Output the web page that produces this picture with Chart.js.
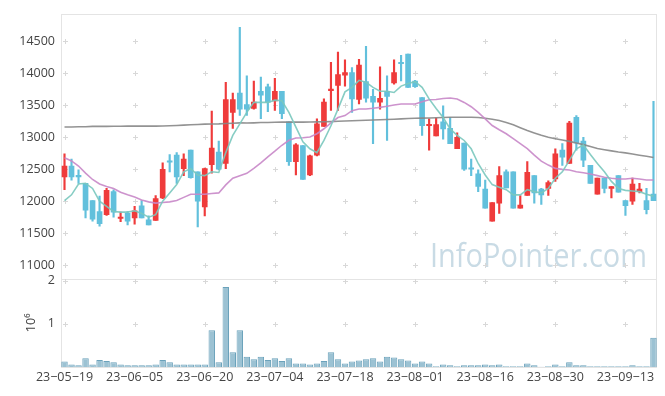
<!DOCTYPE html>
<html>
<head>
<meta charset="utf-8">
<script src="https://cdn.jsdelivr.net/npm/chart.js@4.4.0/dist/chart.umd.min.js"></script>
<style>
  body { margin: 0; background: #fff; }
  #wrap { width: 665px; height: 396px; }
</style>
</head>
<body>
<div id="wrap"><canvas id="chart" width="665" height="396"></canvas></div>
<script>
var dates = [
  '23-05-19','23-05-22','23-05-23','23-05-24','23-05-25','23-05-26','23-05-30','23-05-31',
  '23-06-01','23-06-02','23-06-05','23-06-07','23-06-08','23-06-09','23-06-12','23-06-13',
  '23-06-14','23-06-15','23-06-16','23-06-19','23-06-20','23-06-21','23-06-22','23-06-23',
  '23-06-26','23-06-27','23-06-28','23-06-29','23-06-30','23-07-03','23-07-04','23-07-05',
  '23-07-06','23-07-07','23-07-10','23-07-11','23-07-12','23-07-13','23-07-14','23-07-17',
  '23-07-18','23-07-19','23-07-20','23-07-21','23-07-24','23-07-25','23-07-26','23-07-27',
  '23-07-28','23-07-31','23-08-01','23-08-02','23-08-03','23-08-04','23-08-07','23-08-08',
  '23-08-09','23-08-10','23-08-11','23-08-14','23-08-16','23-08-17','23-08-18','23-08-21',
  '23-08-22','23-08-23','23-08-24','23-08-25','23-08-28','23-08-29','23-08-30','23-08-31',
  '23-09-01','23-09-04','23-09-05','23-09-06','23-09-07','23-09-08','23-09-11','23-09-12',
  '23-09-13','23-09-14','23-09-15','23-09-18','23-09-19'
];
var xTickLabels = ['23-05-19','23-06-05','23-06-20','23-07-04','23-07-18','23-08-01','23-08-16','23-08-30','23-09-13'];
var priceTicks = [11000, 11500, 12000, 12500, 13000, 13500, 14000, 14500];
var volumeTicks = [1000000, 2000000];

var opens = [
  12380,12550,12400,12280,12010,11840,11790,12150,11730,11810,
  11740,11930,11710,11700,12050,12630,12720,12510,12800,12460,
  11910,12570,12770,12590,13390,13690,13510,13450,13720,13790,
  13570,13720,13240,12620,12870,12410,12720,13170,13730,13810,
  13970,14010,13590,13870,13640,13550,13720,13850,14170,14300,
  13880,13620,13180,13020,13240,13140,12820,12910,12520,12430,
  12190,11690,11970,12460,12460,11890,12090,12400,12190,12200,
  12350,12800,12590,13310,12940,12560,12110,12360,12200,12400,
  12010,12000,12150,12010,12110
];
var highs = [
  12740,12660,12490,12280,12010,12080,12200,12180,11830,11840,
  11920,12010,11770,12090,12600,12730,12760,12740,12800,12460,
  12520,13410,12940,13860,13690,14720,13960,13880,13940,13830,
  13920,13720,13240,12900,12870,12720,13290,13600,14170,14330,
  14210,14090,14220,14420,13750,14100,13960,14210,14280,14300,
  13890,13620,13290,13300,13490,13310,13070,12910,12660,12490,
  12330,11980,12540,12490,12460,12090,12620,12400,12200,12320,
  12820,12900,13250,13340,13000,12560,12360,12360,12230,12400,
  12010,12360,12280,12200,13560
];
var lows = [
  12180,12330,12280,11740,11690,11610,11780,11750,11680,11630,
  11640,11740,11630,11700,12040,12460,12280,12400,12360,11600,
  11770,12440,12490,12510,13140,13340,13340,13440,13290,13400,
  13420,13290,12560,12410,12340,12400,12710,13170,13420,13420,
  13800,13390,13520,13550,12900,13440,12950,13830,13880,13780,
  13780,13030,12800,13020,12970,12900,12820,12480,12400,12150,
  11890,11690,11810,12210,11890,11890,12090,11970,11950,12090,
  12310,12560,12590,12800,12540,12280,12110,12130,12050,12140,
  11780,11950,12130,11800,12010
];
var closes = [
  12550,12380,12380,11860,11720,11650,12170,11830,11740,11690,
  11850,11740,11630,12040,12500,12610,12380,12660,12370,12000,
  12510,12830,12500,13590,13590,13440,13440,13550,13660,13550,
  13720,13370,12620,12880,12340,12710,13210,13550,13740,13980,
  14010,13600,14130,13610,13550,13610,13640,14010,14150,13780,
  13790,13180,13200,13200,13130,12900,13000,12500,12500,12230,
  11890,11980,12400,12210,11890,11940,12450,12130,12100,12290,
  12740,12690,13220,12910,12640,12280,12360,12200,12230,12140,
  11930,12270,12190,11870,12010
];
var ma5 = [
  12010,12100,12270,12280,12200,12000,11920,11840,11830,11830,
  11850,11810,11750,11790,12000,12130,12260,12460,12510,12410,
  12400,12460,12450,12760,13030,13210,13390,13545,13545,13545,
  13580,13570,13390,13160,12930,12820,12760,12950,13180,13440,
  13710,13780,13890,13860,13780,13720,13720,13700,13800,13840,
  13870,13780,13600,13450,13310,13130,13030,12950,12820,12590,
  12410,12260,12220,12180,12100,12100,12180,12150,12130,12200,
  12360,12460,12640,12820,12880,12730,12590,12460,12310,12200,
  12170,12160,12150,12110,12080
];
var ma20 = [
  12680,12630,12550,12440,12340,12270,12230,12200,12140,12100,
  12065,12020,11990,11970,11980,11990,12010,12060,12110,12110,
  12110,12120,12130,12255,12360,12400,12436,12513,12600,12694,
  12782,12875,12952,12988,12993,13003,13055,13133,13226,13308,
  13339,13416,13442,13442,13453,13468,13484,13504,13520,13520,
  13520,13556,13587,13590,13607,13613,13597,13545,13478,13390,
  13287,13184,13117,13055,12978,12900,12823,12720,12627,12565,
  12513,12498,12488,12462,12446,12426,12400,12374,12359,12348,
  12348,12359,12348,12333,12333
];
var ma120 = [
  13160,13160,13165,13165,13170,13170,13170,13172,13172,13174,
  13174,13174,13174,13174,13176,13180,13185,13190,13195,13200,
  13205,13208,13210,13215,13220,13225,13222,13225,13230,13232,
  13235,13236,13236,13236,13236,13238,13240,13242,13245,13250,
  13255,13258,13262,13265,13270,13273,13277,13282,13288,13293,
  13298,13300,13302,13305,13310,13313,13313,13313,13313,13308,
  13298,13282,13262,13230,13195,13150,13107,13068,13030,13000,
  12978,12958,12936,12910,12885,12855,12823,12805,12787,12770,
  12756,12738,12720,12702,12684
];
var volumes = [
  130000,60000,40000,200000,60000,160000,140000,110000,60000,40000,
  40000,40000,40000,60000,160000,110000,60000,60000,60000,60000,
  60000,850000,110000,1850000,340000,850000,240000,180000,240000,160000,
  200000,140000,200000,80000,80000,60000,80000,140000,340000,180000,
  80000,130000,150000,180000,200000,130000,240000,220000,180000,150000,
  80000,130000,80000,15000,60000,40000,15000,40000,40000,40000,
  60000,40000,60000,15000,15000,15000,80000,40000,3000,15000,
  60000,15000,110000,40000,40000,15000,15000,15000,15000,15000,
  15000,40000,15000,15000,680000
];

var upColor = '#ef3b3b';
var downColor = '#62c0dc';
var textColor = '#444';
var font = { family: '"Open Sans", sans-serif', size: 12.5 };

var candleColors = closes.map(function(c, i) { return c > opens[i] ? upColor : downColor; });

// frame, crosses at grid intersections, watermark
var decor = {
  id: 'decor',
  beforeDatasetsDraw: function(chart) {
    var ctx = chart.ctx, a = chart.chartArea, sx = chart.scales.x;
    ctx.save();
    ctx.font = '33px "Open Sans"';
    ctx.fillStyle = '#c9dbe5';
    ctx.textAlign = 'left';
    ctx.textBaseline = 'alphabetic';
    var mark = 'InfoPointer.com';
    var squeeze = 217 / ctx.measureText(mark).width;
    ctx.save();
    ctx.translate(a.right - 10 - 217, chart.scales.y.bottom - 12);
    ctx.scale(squeeze, 1);
    ctx.fillText(mark, 0, 0);
    ctx.restore();

    ctx.strokeStyle = '#e4e4e4';
    ctx.lineWidth = 1;
    ctx.strokeRect(Math.round(a.left) + 0.5, Math.round(a.top) + 0.5, Math.round(a.width) - 1, Math.round(a.height) - 1);
    var sepY = Math.round(chart.scales.y.bottom) + 0.5;
    ctx.beginPath();
    ctx.moveTo(a.left, sepY);
    ctx.lineTo(a.right, sepY);
    ctx.stroke();

    ctx.strokeStyle = '#d8d8d8';
    var xs = xTickLabels.map(function(l) { return Math.round(sx.getPixelForValue(dates.indexOf(l))) + 0.5; });
    [chart.scales.y, chart.scales.v].forEach(function(s) {
      s.ticks.forEach(function(t) {
        var py = Math.round(s.getPixelForValue(t.value)) + 0.5;
        xs.forEach(function(px) {
          ctx.beginPath();
          ctx.moveTo(px - 2.5, py); ctx.lineTo(px + 2.5, py);
          ctx.moveTo(px, py - 2.5); ctx.lineTo(px, py + 2.5);
          ctx.stroke();
        });
      });
    });
    ctx.restore();
  }
};

function maLine(data, color, order) {
  return {
    type: 'line', data: data, yAxisID: 'y', borderColor: color, borderWidth: 1.6,
    pointRadius: 0, tension: 0, fill: false, order: order
  };
}

new Chart(document.getElementById('chart'), {
  type: 'bar',
  data: {
    labels: dates,
    datasets: [
      maLine(ma5, 'rgba(122,200,190,0.9)', 0),
      maLine(ma20, 'rgba(200,135,200,0.9)', 1),
      maLine(ma120, 'rgba(135,135,135,0.9)', 2),
      {
        data: lows.map(function(l, i) { return [l, highs[i]]; }),
        yAxisID: 'y', backgroundColor: candleColors, barThickness: 1.5, grouped: false, order: 4
      },
      {
        data: opens.map(function(o, i) { return [o, closes[i]]; }),
        yAxisID: 'y', backgroundColor: candleColors, barThickness: 5, minBarLength: 1.5,
        grouped: false, order: 3
      },
      {
        data: volumes, yAxisID: 'v', backgroundColor: '#9cc2d3', borderColor: '#6ba2bb',
        borderWidth: 1, barPercentage: 1, categoryPercentage: 0.92, grouped: false, order: 5
      }
    ]
  },
  options: {
    responsive: false,
    animation: false,
    layout: { padding: { top: 10, right: 8, bottom: 0, left: 0 } },
    plugins: { legend: { display: false }, tooltip: { enabled: false } },
    scales: {
      x: {
        type: 'category', offset: true,
        grid: { display: false, drawTicks: false },
        border: { display: false },
        ticks: {
          autoSkip: false, maxRotation: 0, minRotation: 0, padding: 3, color: textColor, font: font,
          callback: function(v) {
            var l = this.getLabelForValue(v);
            return xTickLabels.indexOf(l) >= 0 ? l.replace(/-/g, '\u2212') : '';
          }
        },
        afterFit: function(s) { s.height = 29; }
      },
      v: {
        type: 'linear', position: 'left', stack: 'panes', stackWeight: 1, weight: 0,
        min: 0, max: 2046000,
        grid: { display: false, drawTicks: false },
        border: { display: false },
        ticks: { padding: 6, color: textColor, font: font, callback: function(v) { return String(v / 1000000); } },
        afterBuildTicks: function(s) { s.ticks = volumeTicks.map(function(v) { return { value: v }; }); },
        title: { display: true, text: '10\u2076', color: textColor, font: font, padding: { top: 24, bottom: 0 } },
        afterFit: function(s) { s.width = 61; }
      },
      y: {
        type: 'linear', position: 'left', stack: 'panes', stackWeight: 3, weight: 1,
        min: 10790, max: 14935,
        grid: { display: false, drawTicks: false },
        border: { display: false },
        ticks: { padding: 6, color: textColor, font: font, callback: function(v) { return String(v); } },
        afterBuildTicks: function(s) { s.ticks = priceTicks.map(function(v) { return { value: v }; }); },
        afterFit: function(s) { s.width = 61; }
      }
    }
  },
  plugins: [decor]
});
</script>
</body>
</html>
